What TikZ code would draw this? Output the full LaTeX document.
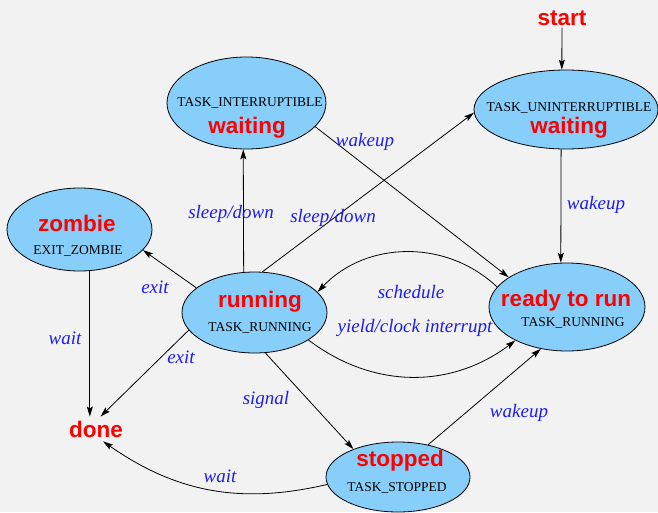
\documentclass[tikz,border=0pt]{standalone}
\usepackage{fontspec}
\setmainfont{Liberation Serif}
\newfontfamily\headfont{Liberation Sans}
\usetikzlibrary{shapes.geometric,arrows.meta}
\definecolor{bgrey}{RGB}{242,242,242}
\definecolor{statefill}{RGB}{135,206,250}
\definecolor{labelblue}{RGB}{28,28,245}
\definecolor{namered}{RGB}{255,0,0}

\begin{document}
\begin{tikzpicture}[x=1pt,y=-1pt,
  state/.style={ellipse, draw=black, line width=0.8pt, fill=statefill, inner sep=0pt},
  title/.style={font=\headfont\bfseries\fontsize{22.5}{26}\selectfont, text=namered, inner sep=2pt},
  kname/.style={font=\fontsize{13.5}{16}\selectfont, inner sep=1pt},
  elabel/.style={font=\itshape\fontsize{19}{22}\selectfont, text=labelblue, inner sep=1pt},
  trans/.style={draw=black, line width=0.8pt, -{Stealth[length=10pt,width=6pt,inset=2pt]}}]

% canvas
\fill[bgrey] (0,0) rectangle (658,512);
\useasboundingbox (0,0) rectangle (658,512);

% states
\node[state, minimum width=159pt, minimum height=92pt] (intr) at (246.5,103) {};
\node[state, minimum width=184pt, minimum height=79pt] (unint) at (566,109.5) {};
\node[state, minimum width=145pt, minimum height=83pt] (zombie) at (79.5,229.5) {};
\node[state, minimum width=145pt, minimum height=81pt] (running) at (254.5,312.5) {};
\node[state, minimum width=156pt, minimum height=88pt] (ready) at (567,307) {};
\node[state, minimum width=144pt, minimum height=70pt] (stopped) at (398,477) {};

% state texts
\node[kname] (intrK) at (250,103) {TASK\_INTERRUPTIBLE};
\node[title] (intrT) at (247,128) {waiting};
\node[kname] (unintK) at (569,108) {TASK\_UNINTERRUPTIBLE};
\node[title] (unintT) at (569,128) {waiting};
\node[title] (zombieT) at (77,223) {zombie};
\node[kname] (zombieK) at (78,251) {EXIT\_ZOMBIE};
\node[title] (runningT) at (260,302) {running};
\node[kname] (runningK) at (260,328) {TASK\_RUNNING};
\node[title] (readyT) at (566,301) {ready to run};
\node[kname] (readyK) at (573,323) {TASK\_RUNNING};
\node[title] (stoppedT) at (400,461) {stopped};
\node[kname] (stoppedK) at (397,488) {TASK\_STOPPED};

% free-standing end points
\node[title] (start) at (562,18) {start};
\node[title, inner sep=4pt] (done) at (96,429) {done};

% transitions
\draw[trans] (start) -- (unint.96);
\draw[trans] (unint.263) -- (ready.98);
\draw[trans] (intr.-19) -- (ready.153);
\draw[trans] (running.105) -- (intr.266);
\draw[trans] (running.79) -- (unint.182);
\draw[trans] (running.157) -- (zombie.-18);
\draw[trans] (zombie.284) -- (zombie.284 |- done.north);
\draw[trans] (running.195) -- (done.70);
\draw[trans] (running.-75) -- (stopped.148);
\draw[trans] (ready.164) to[bend right=45] (running.18);
\draw[trans] (running.-27) to[bend right=37] (ready.213);
\draw[trans] (stopped.47) -- (ready.238);
\draw[trans] (stopped.186) to[bend left=24] (done.-60);

% transition labels
\node[elabel] (l1) at (365,142) {wakeup};
\node[elabel] (l2) at (596,205) {wakeup};
\node[elabel] (l3) at (231,214) {sleep/down};
\node[elabel] (l4) at (333,218) {sleep/down};
\node[elabel] (l5) at (155,287) {exit};
\node[elabel] (l6) at (65,338) {wait};
\node[elabel] (l7) at (181,357) {exit};
\node[elabel] (l8) at (411,292) {schedule};
\node[elabel] (l9) at (415,328) {yield/clock interrupt};
\node[elabel] (l10) at (266,400) {signal};
\node[elabel] (l11) at (519,413) {wakeup};
\node[elabel] (l12) at (220,476) {wait};
\end{tikzpicture}
\end{document}
